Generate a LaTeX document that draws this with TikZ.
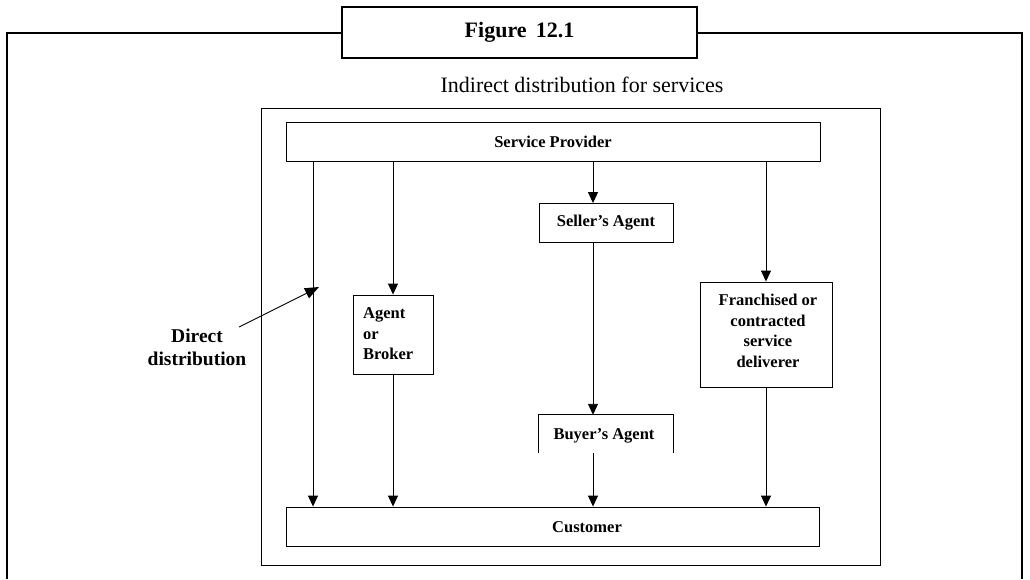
\documentclass[tikz,border=0pt]{standalone}
\usepackage{fontspec}
\setmainfont{Liberation Serif}
\usetikzlibrary{arrows.meta}
\begin{document}
\begin{tikzpicture}[x=1pt,y=-1pt,
  thinbox/.style={draw, line width=0.9pt, inner sep=0pt, font=\bfseries\fontsize{16.5}{20.5}\selectfont},
  txt/.style={inner sep=0pt, font=\bfseries\fontsize{16.5}{20.5}\selectfont},
  arr/.style={line width=0.9pt, -{Triangle[width=10pt,length=11pt]}},
  frame/.style={line width=2pt}]
\useasboundingbox (0,0) rectangle (1030,579);
% outer frame and title
\node[draw, line width=2pt, minimum width=355pt, minimum height=51pt, inner sep=0pt,
  font=\bfseries\fontsize{22}{26}\selectfont] (fig) at (519.5,32.5) {Figure\, 12.1};
\draw[line width=1pt] ([yshift=1.5pt]fig.south west) -- ([yshift=1.5pt]fig.south east);
\draw[frame] (7,579) -- (7,33) -- (fig.west |- 0,33);
\draw[frame] (fig.east |- 0,33) -- (1022,33) -- (1022,579);
\node[inner sep=0pt, font=\fontsize{22}{26}\selectfont] (title) at (582,85) {Indirect distribution for services};
% inner frame
\draw[line width=0.9pt] (261,108) rectangle (880,565);
% boxes
\node[thinbox, minimum width=534pt, minimum height=39pt] (sp) at (553,142) {Service Provider};
\node[thinbox, minimum width=134pt, minimum height=39pt] (sa) at (606,223) {Seller’s Agent};
\node[thinbox, minimum width=80pt, minimum height=79pt] (ab) at (393,334.5) {};
\node[txt, align=left, anchor=west] at (363,334) {Agent\\or\\Broker};
\node[draw, line width=0.9pt, minimum width=132pt, minimum height=105pt] (fr) at (766,334.5) {};
\node[txt, align=center] at (768,331) {Franchised or\\contracted\\service\\deliverer};
\node[txt, minimum width=134pt, minimum height=38pt] (ba) at (606,434) {};
\draw[line width=0.9pt] (ba.south west) -- (ba.north west) -- (ba.north east) -- (ba.south east);
\node[txt] at (604,436) {Buyer’s Agent};
\node[thinbox, minimum width=533pt, minimum height=39pt] (cu) at (552.5,526.5) {};
\node[txt] at (587,527) {Customer};
% columns
\coordinate (c1) at (313,0);
\coordinate (c2) at (393,0);
\coordinate (c3) at (593,0);
\coordinate (c4) at (766,0);
\draw[arr] (sp.south -| c1) -- (cu.north -| c1);
\draw[arr] (sp.south -| c2) -- (ab.north);
\draw[arr] (ab.south) -- (cu.north -| c2);
\draw[arr] (sp.south -| c3) -- (sa.north -| c3);
\draw[arr] (sa.south -| c3) -- (ba.north -| c3);
\draw[arr] (ba.south -| c3) -- (cu.north -| c3);
\draw[arr] (sp.south -| c4) -- (fr.north);
\draw[arr] (fr.south) -- (cu.north -| c4);
% direct distribution
\node[txt, align=center, font=\bfseries\fontsize{19.5}{23}\selectfont] (dd) at (197,347) {Direct\\distribution};
\coordinate (ddtip) at (319,287);
\draw[line width=0.9pt, -{Triangle[width=11pt,length=14pt]}] (239,327) -- (ddtip);
\end{tikzpicture}
\end{document}
